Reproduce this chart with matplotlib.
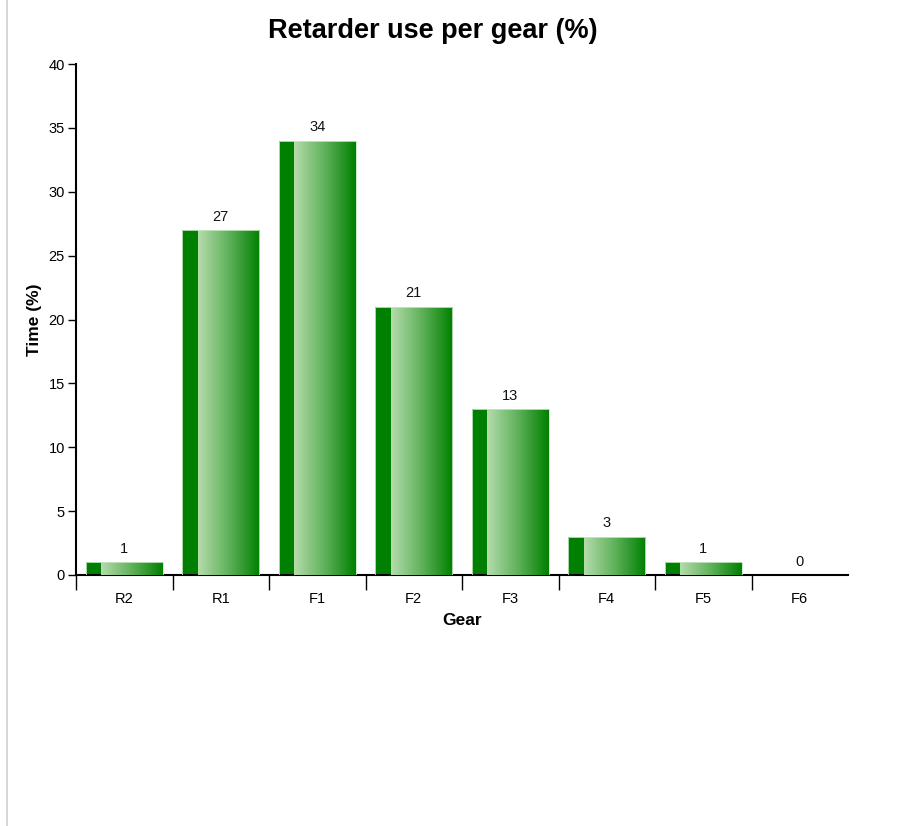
import numpy as np
import matplotlib.pyplot as plt
from matplotlib.colors import LinearSegmentedColormap
from matplotlib.lines import Line2D
from matplotlib.patches import Rectangle

plt.rcParams['font.family'] = ['Liberation Sans', 'DejaVu Sans']

# ── Data ──────────────────────────────────────────────────────────────────────
gears = ['R2', 'R1', 'F1', 'F2', 'F3', 'F4', 'F5', 'F6']
time_pct = [1, 27, 34, 21, 13, 3, 1, 0]

DARK_GREEN = '#008000'
LIGHT_GREEN = '#b4dcac'
grad = LinearSegmentedColormap.from_list('bar_grad', [LIGHT_GREEN, '#5fb15a', DARK_GREEN])

fig = plt.figure(figsize=(9.09, 8.26), dpi=100)
ax = fig.add_axes([76 / 909, 1 - 575 / 826, (848 - 76) / 909, (575 - 64) / 826])

bar_w = 0.8
strip = 0.16
gradient = np.linspace(0, 1, 256).reshape(1, -1)

for i, (g, v) in enumerate(zip(gears, time_pct)):
    x0 = i + 0.5 - bar_w / 2
    if v > 0:
        bar = ax.bar(i + 0.5, v, width=bar_w, color=DARK_GREEN, linewidth=0, zorder=2)[0]
        im = ax.imshow(gradient, extent=[x0 + strip, x0 + bar_w, 0, v + 1], aspect='auto',
                       cmap=grad, zorder=3, interpolation='bicubic')
        im.set_clip_path(bar)
        ax.add_patch(Rectangle((x0, 0), bar_w, v, fill=False, edgecolor='#c8e6c4',
                               linewidth=0.6, zorder=4))
    ax.text(i + 0.5, v + 0.5, str(v), ha='center', va='bottom', fontsize=10.5,
            color='#111111')

ax.set_xlim(0, 8)
ax.set_ylim(0, 40)

ax.set_yticks(range(0, 41, 5))
ax.tick_params(axis='y', length=6, width=1, labelsize=10.5, pad=2)

ax.set_xticks(range(0, 8))
ax.set_xticklabels([])
ax.set_xticks([i + 0.5 for i in range(8)], minor=True)
ax.set_xticklabels(gears, minor=True)
ax.tick_params(axis='x', which='major', length=11, width=1)
ax.tick_params(axis='x', which='minor', length=0, labelsize=10.5, pad=12)

for s in ['top', 'right']:
    ax.spines[s].set_visible(False)
ax.spines['left'].set_linewidth(1.5)
ax.spines['bottom'].set_linewidth(1.5)

ax.set_xlabel('Gear', fontsize=12.5, fontweight='bold', labelpad=5)
ax.set_ylabel('Time (%)', fontsize=12.5, fontweight='bold', labelpad=5)
fig.text(433 / 909, 1 - 31 / 826, 'Retarder use per gear (%)', ha='center', va='center',
         fontsize=19.5, fontweight='bold')

fig.add_artist(Line2D([7.5 / 909, 7.5 / 909], [0, 1], color='#d0d0d0', linewidth=1.2,
                      transform=fig.transFigure))

fig.savefig('out.png', dpi=100)
